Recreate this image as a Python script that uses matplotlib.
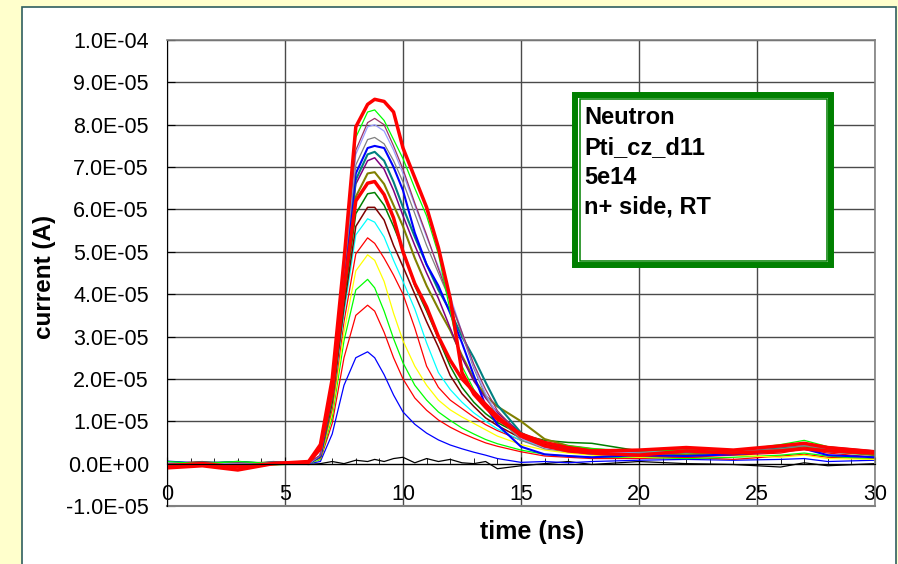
import matplotlib
matplotlib.use('Agg')
import matplotlib.pyplot as plt
from matplotlib.patches import Rectangle
from matplotlib.ticker import FuncFormatter

plt.rcParams['font.family'] = ['Liberation Sans', 'DejaVu Sans']

# time axis (ns), same grid for every trace
T = [0, 1.5, 3, 4.5, 6, 6.5, 7, 7.5, 8, 8.5, 8.8, 9.2, 9.6, 10, 10.5, 11, 11.5, 12,
     12.5, 13, 13.5, 14, 15, 16, 17, 18, 20, 22, 24, 26, 27, 28, 30]

# currents in units of 1e-5 A
black = [0.02, -0.03, 0.0, 0.03, -0.02, 0.0, 0.05, 0.0, 0.08, 0.05, 0.1, 0.05, 0.12, 0.15, 0.02, 0.12, 0.05,
         0.1, 0.02, 0.0, 0.05, -0.12, -0.05, 0.0, 0.05, -0.02, 0.05, 0.0, -0.02, -0.08, 0.02, -0.05, 0.0]
blue_s = [0.05, 0.0, -0.05, 0.05, 0.0, 0.05, 0.7, 1.85, 2.5, 2.64, 2.5, 2.1, 1.62, 1.22, 0.93, 0.72, 0.56,
          0.44, 0.35, 0.27, 0.2, 0.12, 0.03, 0.05, 0.02, 0.05, 0.08, 0.1, 0.08, 0.1, 0.12, 0.05, 0.08]
red_s = [0.0, 0.05, -0.05, 0.0, 0.02, 0.1, 0.95, 2.5, 3.5, 3.74, 3.6, 3.1, 2.5, 2.0, 1.55, 1.26, 1.03,
         0.86, 0.72, 0.6, 0.49, 0.41, 0.28, 0.18, 0.15, 0.12, 0.12, 0.15, 0.1, 0.18, 0.22, 0.15, 0.12]
lime_s = [0.03, 0.0, 0.05, -0.03, 0.0, 0.1, 1.1, 2.9, 4.1, 4.35, 4.15, 3.6, 2.95, 2.38, 1.85, 1.5, 1.22,
          1.02, 0.84, 0.7, 0.57, 0.47, 0.32, 0.22, 0.18, 0.15, 0.15, 0.12, 0.15, 0.2, 0.25, 0.18, 0.1]
yellow = [0.0, 0.03, 0.0, 0.02, 0.0, 0.12, 1.2, 3.1, 4.55, 4.93, 4.8, 4.3, 3.55, 2.9, 2.3, 1.85, 1.5,
          1.27, 1.1, 0.95, 0.8, 0.65, 0.45, 0.32, 0.25, 0.2, 0.15, 0.18, 0.2, 0.15, 0.2, 0.12, 0.1]
red_m = [0.02, 0.0, -0.03, 0.0, 0.03, 0.13, 1.3, 3.35, 4.95, 5.33, 5.2, 4.85, 4.45, 4.0, 3.2, 2.3, 1.8,
         1.5, 1.3, 1.1, 0.92, 0.78, 0.55, 0.4, 0.3, 0.22, 0.18, 0.15, 0.2, 0.25, 0.35, 0.25, 0.15]
cyan = [0.05, 0.0, 0.03, 0.0, 0.0, 0.14, 1.4, 3.55, 5.4, 5.78, 5.7, 5.35, 4.8, 4.3, 3.65, 2.85, 2.15,
        1.75, 1.45, 1.2, 1.0, 0.82, 0.55, 0.4, 0.3, 0.22, 0.2, 0.25, 0.22, 0.3, 0.35, 0.28, 0.2]
maroon = [0.0, 0.03, 0.0, 0.0, 0.02, 0.15, 1.45, 3.7, 5.6, 6.05, 6.05, 5.75, 5.15, 4.65, 4.0, 3.35, 2.75,
          2.08, 1.65, 1.35, 1.08, 0.9, 0.6, 0.45, 0.35, 0.28, 0.25, 0.3, 0.25, 0.35, 0.4, 0.3, 0.22]
dkgreen = [0.03, 0.0, 0.05, 0.0, 0.0, 0.16, 1.5, 3.85, 5.9, 6.37, 6.4, 6.1, 5.6, 5.05, 4.2, 3.6, 2.95,
           2.3, 1.8, 1.45, 1.18, 0.97, 0.68, 0.55, 0.5, 0.48, 0.3, 0.28, 0.3, 0.38, 0.45, 0.35, 0.25]
red2 = [-0.05, 0.0, -0.08, 0.0, 0.03, 0.35, 1.7, 4.1, 6.2, 6.62, 6.66, 6.35, 5.8, 5.0, 4.25, 3.7, 3.0,
        2.44, 2.0, 1.7, 1.4, 1.12, 0.65, 0.42, 0.3, 0.25, 0.2, 0.3, 0.25, 0.3, 0.35, 0.3, 0.25]
olive = [0.0, 0.02, 0.0, 0.03, 0.0, 0.17, 1.6, 4.1, 6.3, 6.85, 6.88, 6.6, 6.1, 5.6, 4.85, 4.2, 3.65,
         3.15, 2.55, 2.0, 1.6, 1.35, 1.0, 0.58, 0.42, 0.35, 0.25, 0.22, 0.25, 0.35, 0.42, 0.3, 0.2]
purple2 = [0.02, 0.0, 0.0, 0.02, 0.0, 0.18, 1.65, 4.25, 6.6, 7.15, 7.22, 6.95, 6.45, 5.85, 5.15, 4.5, 3.9,
           3.2, 2.5, 1.95, 1.55, 1.2, 0.72, 0.5, 0.4, 0.32, 0.3, 0.28, 0.3, 0.4, 0.45, 0.35, 0.25]
teal = [0.0, 0.03, 0.02, 0.0, 0.02, 0.18, 1.7, 4.3, 6.7, 7.3, 7.36, 7.15, 6.65, 6.05, 5.35, 4.7, 4.1,
        3.6, 3.0, 2.5, 1.92, 1.38, 0.73, 0.42, 0.35, 0.3, 0.28, 0.3, 0.28, 0.38, 0.45, 0.38, 0.28]
blue_m = [0.05, 0.0, 0.03, 0.0, 0.0, 0.18, 1.75, 4.4, 6.85, 7.45, 7.5, 7.45, 7.0, 6.45, 5.45, 4.7, 4.2,
          3.55, 2.85, 2.08, 1.37, 0.92, 0.4, 0.22, 0.18, 0.15, 0.2, 0.18, 0.22, 0.3, 0.35, 0.2, 0.15]
grey = [0.0, 0.02, 0.0, 0.03, 0.0, 0.19, 1.8, 4.5, 7.05, 7.65, 7.7, 7.55, 7.15, 6.65, 5.9, 5.15, 4.5,
        3.85, 3.05, 2.25, 1.6, 1.1, 0.55, 0.35, 0.28, 0.25, 0.25, 0.3, 0.28, 0.35, 0.42, 0.35, 0.25]
lightblue = [0.03, 0.0, 0.0, 0.02, 0.0, 0.2, 1.85, 4.65, 7.3, 7.95, 8.0, 7.85, 7.4, 6.85, 6.1, 5.35, 4.65,
             3.95, 3.1, 2.3, 1.65, 1.15, 0.6, 0.38, 0.3, 0.25, 0.28, 0.32, 0.3, 0.4, 0.45, 0.38, 0.3]
purple_t = [0.0, 0.03, 0.02, 0.0, 0.02, 0.2, 1.85, 4.7, 7.4, 8.05, 8.15, 8.0, 7.5, 6.95, 6.15, 5.4, 4.6,
            3.85, 3.1, 2.35, 1.75, 1.25, 0.65, 0.4, 0.3, 0.28, 0.3, 0.35, 0.3, 0.42, 0.48, 0.4, 0.3]
lime_b = [0.05, 0.0, 0.05, 0.0, 0.0, 0.4, 1.9, 4.9, 7.7, 8.3, 8.35, 8.1, 7.65, 7.2, 6.5, 5.85, 4.95,
          3.6, 2.3, 1.75, 1.35, 1.05, 0.65, 0.5, 0.42, 0.35, 0.3, 0.32, 0.3, 0.45, 0.55, 0.4, 0.25]
red_a = [-0.1, -0.05, -0.15, 0.0, 0.05, 0.45, 2.0, 4.8, 7.95, 8.48, 8.6, 8.55, 8.3, 7.45, 6.75, 6.05, 5.1,
         3.9, 2.15, 1.64, 1.33, 1.05, 0.7, 0.5, 0.38, 0.3, 0.32, 0.38, 0.32, 0.42, 0.48, 0.38, 0.28]

# drawing order: bottom first, (data, colour, linewidth)
traces = [
    (black, '#000000', 0.9),
    (blue_s, '#0000FF', 0.9),
    (red_s, '#FF0000', 0.9),
    (lime_s, '#00FF00', 0.9),
    (yellow, '#FFFF00', 0.9),
    (red_m, '#FF0000', 0.9),
    (cyan, '#00FFFF', 0.9),
    (maroon, '#800000', 1.1),
    (dkgreen, '#008000', 1.1),
    (olive, '#808000', 1.5),
    (purple2, '#800080', 1.1),
    (teal, '#008080', 1.5),
    (blue_m, '#0000FF', 1.5),
    (grey, '#808080', 0.9),
    (lightblue, '#9999FF', 0.9),
    (purple_t, '#993366', 0.9),
    (lime_b, '#00FF00', 0.9),
    (red2, '#FF0000', 2.5),
    (red_a, '#FF0000', 2.5),
]

x_ticks = [0, 5, 10, 15, 20, 25, 30]
y_ticks = [-1.0e-5, 0.0, 1.0e-5, 2.0e-5, 3.0e-5, 4.0e-5, 5.0e-5, 6.0e-5, 7.0e-5, 8.0e-5, 9.0e-5, 1.0e-4]
box_lines = ['Neutron', 'Pti_cz_d11', '5e14', 'n+ side, RT']

W, H = 898, 564


def fx(px):
    return px / W


def fy(py):
    return 1 - py / H


def main():
    fig = plt.figure(figsize=(W / 100, H / 100), dpi=100, facecolor='#FFFFCC')

    # white chart panel
    fig.patches.append(Rectangle((fx(22), -0.05), fx(896) - fx(22), fy(7) + 0.05,
                                 transform=fig.transFigure, facecolor='white',
                                 edgecolor='#2F5F5F', lw=1.2, zorder=-10))

    ax = fig.add_axes([fx(167), fy(506), fx(875) - fx(167), fy(40) - fy(506)])
    ax.set_facecolor('none')

    for vals, col, lw in traces:
        ax.plot(T, [v * 1e-5 for v in vals], color=col, lw=lw)

    ax.set_xlim(0, 30)
    ax.set_ylim(-1e-5, 1e-4)
    ax.set_xticks(x_ticks)
    ax.set_xticks(range(0, 31), minor=True)
    ax.set_yticks(y_ticks)
    ax.yaxis.set_major_formatter(FuncFormatter(lambda v, p: f'{v:.1E}'))
    ax.grid(True, which='major', color='#4a4a4a', lw=1.0)

    ax.spines['left'].set_color('black')
    ax.spines['top'].set_color('#808080')
    ax.spines['right'].set_color('#808080')
    ax.spines['top'].set_linewidth(1.2)
    ax.spines['right'].set_linewidth(1.2)
    ax.spines['bottom'].set_position(('data', 0))
    ax.spines['bottom'].set_color('black')
    ax.axhline(-1e-5, color='#808080', lw=1.5, clip_on=False)

    ax.tick_params(axis='x', which='major', direction='in', length=5, labelsize=15.5, pad=15)
    ax.tick_params(axis='x', which='minor', direction='in', length=4)
    ax.tick_params(axis='y', direction='in', length=6, labelsize=15.5, pad=13)

    fig.text(fx(44), fy(277), 'current (A)', rotation=90, ha='center', va='center',
             fontsize=17.5, fontweight='bold')
    fig.text(fx(532), fy(532), 'time (ns)', ha='center', va='center',
             fontsize=18, fontweight='bold')

    # green framed text box
    fig.patches.append(Rectangle((fx(575), fy(265)), fx(831) - fx(575), fy(95) - fy(265),
                                 transform=fig.transFigure, facecolor='white',
                                 edgecolor='#008000', lw=4.3, zorder=4))
    fig.patches.append(Rectangle((fx(579.5), fy(260.5)), fx(826.5) - fx(579.5), fy(99.5) - fy(260.5),
                                 transform=fig.transFigure, facecolor='none',
                                 edgecolor='#008000', lw=1.1, zorder=4.1))
    for i, s in enumerate(box_lines):
        fig.text(fx(584), fy(124 + 30 * i), s, ha='left', va='baseline',
                 fontsize=17, fontweight='bold', zorder=6)

    fig.savefig('out.png', dpi=100, facecolor=fig.get_facecolor())


if __name__ == '__main__':
    main()
